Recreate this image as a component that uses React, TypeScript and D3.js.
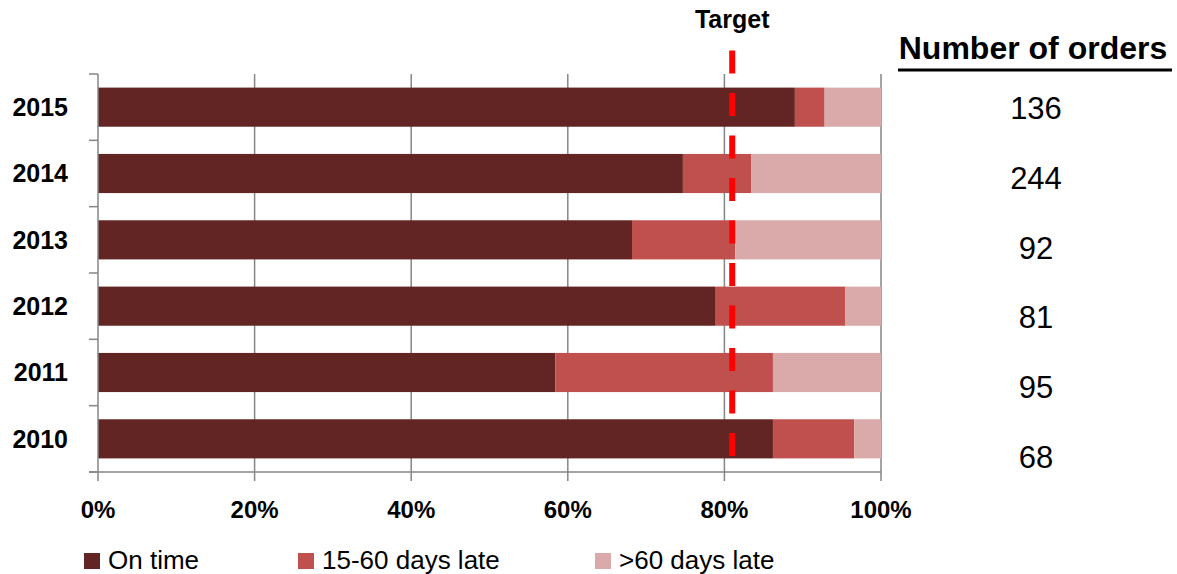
import React from "react";
import * as d3 from "d3";

const years = ["2015", "2014", "2013", "2012", "2011", "2010"];
const onTime = [89.0, 74.7, 68.2, 78.8, 58.4, 86.2];
const late15to60 = [3.8, 8.7, 13.2, 16.6, 27.8, 10.4];
const lateOver60 = [7.2, 16.6, 18.6, 4.6, 13.8, 3.4];
const orders = [136, 244, 92, 81, 95, 68];
const targetValue = 81;
const xTicks = [0, 20, 40, 60, 80, 100];
const seriesNames = ["On time", "15-60 days late", ">60 days late"];
const seriesColors = ["#632523", "#C0504D", "#DAAAAA"];

const W = 1177;
const H = 574;
const FONT = "'Liberation Sans', Arial, sans-serif";

export default function App() {
  const x = d3.scaleLinear().domain([0, 100]).range([98, 881]);
  const y = d3
    .scaleBand<string>()
    .domain(years)
    .range([74, 472])
    .paddingInner(0.41)
    .paddingOuter(0.205);
  const yNum = d3.scalePoint<string>().domain(years).range([119, 468]);

  const table = years.map((yr, i) => ({
    year: yr,
    onTime: onTime[i],
    late15: late15to60[i],
    late60: lateOver60[i],
  }));
  const stack = d3.stack<any>().keys(["onTime", "late15", "late60"]);
  const layers = stack(table);

  const grid = "#868686";
  const tx = x(targetValue);

  return (
    <svg
      width={W}
      height={H}
      style={{ position: "absolute", left: 0, top: 0, background: "#fff" }}
    >
      {/* gridlines */}
      {xTicks.slice(1).map((t) => (
        <line key={t} x1={x(t)} x2={x(t)} y1={74} y2={481} stroke={grid} strokeWidth={1.5} />
      ))}
      {/* bars */}
      {layers.map((layer, li) => (
        <g key={li} fill={seriesColors[li]}>
          {layer.map((d, i) => (
            <rect
              key={i}
              x={x(d[0])}
              width={x(d[1]) - x(d[0])}
              y={y(years[i])}
              height={y.bandwidth()}
            />
          ))}
        </g>
      ))}
      {/* axes */}
      <line x1={98} x2={98} y1={74} y2={481} stroke={grid} strokeWidth={1.5} />
      <line x1={89} x2={881} y1={472} y2={472} stroke={grid} strokeWidth={1.5} />
      {d3.range(years.length + 1).map((k) => {
        const yy = 74 + k * y.step();
        return <line key={k} x1={89} x2={98} y1={yy} y2={yy} stroke={grid} strokeWidth={1.5} />;
      })}
      {/* y labels */}
      {years.map((yr) => (
        <text
          key={yr}
          x={68}
          y={(y(yr) as number) + y.bandwidth() / 2}
          dy="0.35em"
          textAnchor="end"
          fontFamily={FONT}
          fontWeight="bold"
          fontSize={25}
        >
          {yr}
        </text>
      ))}
      {/* x labels */}
      {xTicks.map((t) => (
        <text
          key={t}
          x={x(t)}
          y={518}
          textAnchor="middle"
          fontFamily={FONT}
          fontWeight="bold"
          fontSize={24}
        >
          {t}%
        </text>
      ))}
      {/* target */}
      <line
        x1={tx}
        x2={tx}
        y1={50.5}
        y2={456}
        stroke="#FF0000"
        strokeWidth={6}
        strokeDasharray="23 19.5"
      />
      <text x={tx} y={28} textAnchor="middle" fontFamily={FONT} fontWeight="bold" fontSize={25}>
        Target
      </text>
      {/* number of orders */}
      <text x={1033} y={59} textAnchor="middle" fontFamily={FONT} fontWeight="bold" fontSize={32}>
        Number of orders
      </text>
      <line x1={898} x2={1172} y1={70} y2={70} stroke="#000" strokeWidth={3} />
      {years.map((yr, i) => (
        <text
          key={yr}
          x={1036}
          y={yNum(yr)}
          textAnchor="middle"
          fontFamily={FONT}
          fontSize={31}
        >
          {orders[i]}
        </text>
      ))}
      {/* legend */}
      {seriesNames.map((name, i) => {
        const lx = [84, 298, 595][i];
        return (
          <g key={name}>
            <rect x={lx} y={553} width={16} height={16} fill={seriesColors[i]} />
            <text x={lx + 24} y={569} fontFamily={FONT} fontSize={26}>
              {name}
            </text>
          </g>
        );
      })}
    </svg>
  );
}
